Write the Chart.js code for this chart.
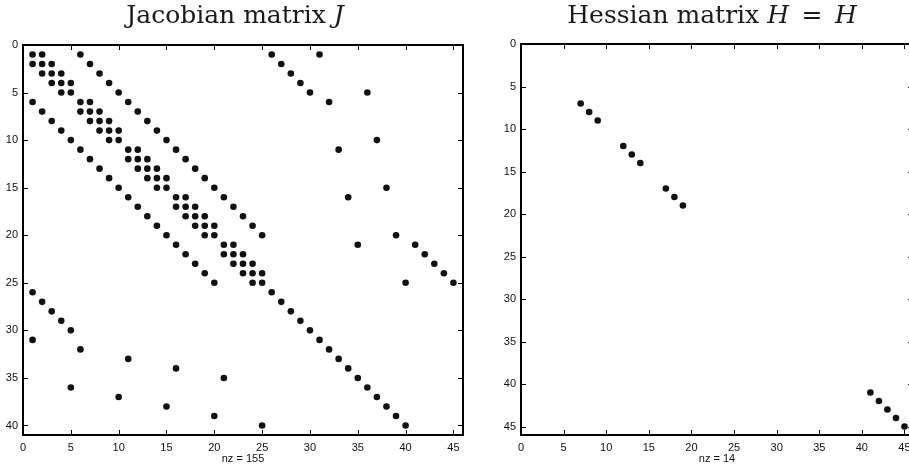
<!DOCTYPE html>
<html><head><meta charset="utf-8">
<script src="https://cdn.jsdelivr.net/npm/chart.js@4.4.1/dist/chart.umd.min.js"></script>
<style>
html,body{margin:0;padding:0;width:909px;height:470px;overflow:hidden;background:#fff;}
#c1{position:absolute;left:0;top:0;}
#c2{position:absolute;left:470px;top:0;}
</style></head><body>
<canvas id="c1" width="470" height="470"></canvas>
<canvas id="c2" width="460" height="470"></canvas>
<script>
// Jacobian sparsity pattern: for each row (1..40) the columns holding a nonzero
const jacobianRows = [
  [1,2,6,26,31],
  [1,2,3,7,27],
  [2,3,4,8,28],
  [3,4,5,9,29],
  [4,5,10,30,36],
  [1,6,7,11,32],
  [2,6,7,8,12],
  [3,7,8,9,13],
  [4,8,9,10,14],
  [5,9,10,15,37],
  [6,11,12,16,33],
  [7,11,12,13,17],
  [8,12,13,14,18],
  [9,13,14,15,19],
  [10,14,15,20,38],
  [11,16,17,21,34],
  [12,16,17,18,22],
  [13,17,18,19,23],
  [14,18,19,20,24],
  [15,19,20,25,39],
  [16,21,22,35,41],
  [17,21,22,23,42],
  [18,22,23,24,43],
  [19,23,24,25,44],
  [20,24,25,40,45],
  [1,26],
  [2,27],
  [3,28],
  [4,29],
  [5,30],
  [1,31],
  [6,32],
  [11,33],
  [16,34],
  [21,35],
  [5,36],
  [10,37],
  [15,38],
  [20,39],
  [25,40]
];
// Hessian sparsity pattern
const hessianRowIdx = [7,8,9,12,13,14,17,18,19,41,42,43,44,45];
const hessianColIdx = [7,8,9,12,13,14,17,18,19,41,42,43,44,45];

const jacXTicks = [0,5,10,15,20,25,30,35,40,45];
const jacYTicks = [0,5,10,15,20,25,30,35,40];
const hesXTicks = [0,5,10,15,20,25,30,35,40,45];
const hesYTicks = [0,5,10,15,20,25,30,35,40,45];

const jacTitle = [['Jacobian matrix ', false], ['J', true]];
const hesTitle = [['Hessian matrix ', false], ['H', true], ['\u2002=\u2002', false], ['H', true]];
const jacNzLabel = 'nz = 155';
const hesNzLabel = 'nz = 14';

const jacPoints = [];
jacobianRows.forEach((cols, i) => cols.forEach(c => jacPoints.push({x: c, y: i + 1})));
const hesPoints = hessianRowIdx.map((r, i) => ({x: hessianColIdx[i], y: r}));

const boxPlugin = {
  id: 'spyBox',
  afterDraw(chart) {
    const {ctx, chartArea: a, scales: {x, y}} = chart;
    ctx.save();
    ctx.strokeStyle = '#000';
    ctx.lineWidth = 1;
    const L = 5;
    ctx.beginPath();
    x.ticks.forEach(t => {
      const px = Math.round(x.getPixelForValue(t.value)) + 0.5;
      ctx.moveTo(px, a.bottom); ctx.lineTo(px, a.bottom - L);
      ctx.moveTo(px, a.top); ctx.lineTo(px, a.top + L);
    });
    y.ticks.forEach(t => {
      const py = Math.round(y.getPixelForValue(t.value)) + 0.5;
      ctx.moveTo(a.left, py); ctx.lineTo(a.left + L, py);
      ctx.moveTo(a.right, py); ctx.lineTo(a.right - L, py);
    });
    ctx.stroke();
    ctx.lineWidth = 2;
    ctx.strokeRect(a.left, a.top, a.right - a.left, a.bottom - a.top);
    // title
    const o = chart.options.plugins.spyBox;
    const size = 25;
    const fam = '"DejaVu Serif", "Liberation Serif", serif';
    let total = 0;
    o.parts.forEach(p => { ctx.font = (p[1] ? 'italic ' : '') + size + 'px ' + fam; total += ctx.measureText(p[0]).width; });
    let xx = (a.left + a.right) / 2 + o.dx - total / 2;
    ctx.fillStyle = '#1a1a1a';
    ctx.textBaseline = 'alphabetic';
    o.parts.forEach(p => { ctx.font = (p[1] ? 'italic ' : '') + size + 'px ' + fam; ctx.fillText(p[0], xx, 23); xx += ctx.measureText(p[0]).width; });
    ctx.restore();
  }
};

function makeChart(id, pts, xMax, yMax, xTicks, yTicks, yWidth, pad, parts, dx, nz) {
  const tickFont = {family: '"Liberation Sans", Arial, sans-serif', size: 11};
  return new Chart(document.getElementById(id), {
    type: 'scatter',
    data: {datasets: [{data: pts, pointRadius: 3.3, pointBackgroundColor: '#111', pointBorderWidth: 0, showLine: false}]},
    options: {
      responsive: false, animation: false, events: [],
      layout: {padding: pad},
      plugins: {legend: {display: false}, tooltip: {enabled: false}, spyBox: {parts: parts, dx: dx}},
      scales: {
        x: {
          type: 'linear', min: 0, max: xMax,
          grid: {display: false, drawTicks: false}, border: {display: false},
          ticks: {font: tickFont, color: '#111', padding: 6, maxRotation: 0, autoSkip: false},
          afterBuildTicks: s => { s.ticks = xTicks.map(v => ({value: v})); },
          afterFit: s => { s.height = 35; },
          title: {display: true, text: nz, font: tickFont, color: '#111', padding: {top: 0, bottom: 4}}
        },
        y: {
          type: 'linear', min: 0, max: yMax, reverse: true,
          grid: {display: false, drawTicks: false}, border: {display: false},
          ticks: {font: tickFont, color: '#111', padding: 5, autoSkip: false},
          afterBuildTicks: s => { s.ticks = yTicks.map(v => ({value: v})); },
          afterFit: s => { s.width = yWidth; }
        }
      }
    },
    plugins: [boxPlugin]
  });
}

makeChart('c1', jacPoints, 46, 41, jacXTicks, jacYTicks, 23, {left: 0, right: 7, top: 45, bottom: 0}, jacTitle, -8, jacNzLabel);
makeChart('c2', hesPoints, 46, 46, hesXTicks, hesYTicks, 24, {left: 27, right: 17, top: 44, bottom: 0}, hesTitle, -5, hesNzLabel);
</script>
</body></html>
